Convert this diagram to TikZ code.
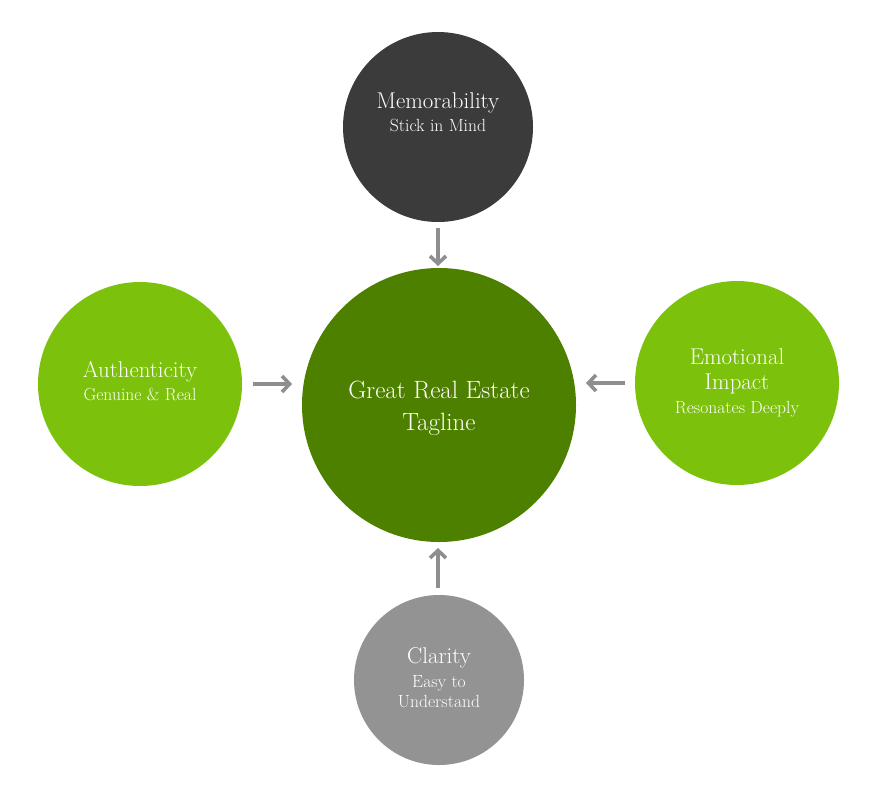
\documentclass[tikz,border=0pt]{standalone}
\usetikzlibrary{arrows.meta}
\definecolor{cgreen}{HTML}{4E8000}
\definecolor{lgreen}{HTML}{7CC10B}
\definecolor{dgray}{HTML}{3B3B3B}
\definecolor{mgray}{HTML}{939393}
\definecolor{agray}{HTML}{8E8E8E}
\begin{document}
\begin{tikzpicture}[x=1pt,y=-1pt,
  disc/.style={circle,draw=none,inner sep=0pt,minimum size=#1},
  ttl/.style={anchor=base,text=white,font=\fontsize{22.8}{27}\selectfont,inner sep=0pt},
  sub/.style={anchor=base,text=white,font=\fontsize{17.6}{21}\selectfont,inner sep=0pt},
  big/.style={anchor=base,text=white,font=\fontsize{25}{30}\selectfont,inner sep=0pt},
  link/.style={draw=agray,line width=3.6pt,-{Straight Barb[length=7.5pt,width=16pt,line width=3.6pt]}}]
\useasboundingbox (0,0) rectangle (888,788);
\node[disc=274pt,fill=cgreen] (core) at (439,405) {};
\node[disc=190pt,fill=dgray] (mem) at (438,127) {};
\node[disc=204pt,fill=lgreen] (auth) at (140,384) {};
\node[disc=204pt,fill=lgreen] (emo) at (737,383) {};
\node[disc=170pt,fill=mgray] (clar) at (439,680) {};
% texts
\node[big] (c1) at (439,398) {Great Real Estate};
\node[big] (c2) at (439,430) {Tagline};
\node[ttl] (m1) at (438,108) {Memorability};
\node[sub] (m2) at (438,131) {Stick in Mind};
\node[ttl] (a1) at (140,377) {Authenticity};
\node[sub] (a2) at (140,400) {Genuine \& Real};
\node[ttl] (e1) at (737,364) {Emotional};
\node[ttl] (e2) at (737,389) {Impact};
\node[sub] (e3) at (737,413) {Resonates Deeply};
\node[ttl] (k1) at (439,663) {Clarity};
\node[sub] (k2) at (439,687) {Easy to};
\node[sub] (k3) at (439,707) {Understand};
% arrows
\coordinate (mS) at (438,228);
\coordinate (mE) at (438,266);
\coordinate (aS) at (253,384);
\coordinate (aE) at (292,384);
\coordinate (eS) at (625,383);
\coordinate (eE) at (586,383);
\coordinate (kS) at (438,588);
\coordinate (kE) at (438,548);
\draw[link] (mS) -- (mE);
\draw[link] (aS) -- (aE);
\draw[link] (eS) -- (eE);
\draw[link] (kS) -- (kE);
\end{tikzpicture}
\end{document}
